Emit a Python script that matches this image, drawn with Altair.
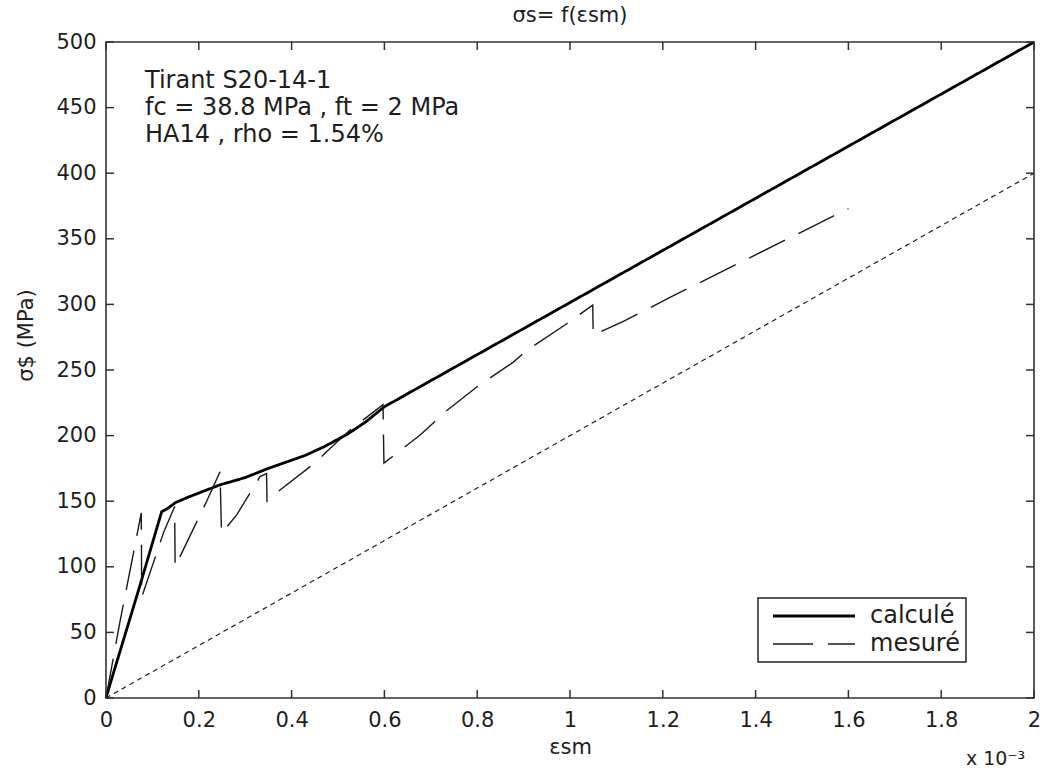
import altair as alt
import pandas as pd

FONT = "DejaVu Sans"
INK = "#1e1e1e"

# ---- data (x in units of 1e-3, y in MPa) ----
calc_x = [0, 0.01, 0.07, 0.12, 0.135, 0.15, 0.18, 0.246, 0.3, 0.346, 0.382, 0.43, 0.47, 0.52, 0.56, 0.6, 2.0]
calc_y = [0, 12, 82, 142, 145, 149, 153.5, 162.5, 168, 174.5, 179, 185, 191.5, 201, 210.5, 222, 500]

mes_x = [0, 0.03, 0.06, 0.076, 0.077, 0.102, 0.125, 0.148, 0.149, 0.217, 0.2457, 0.249,
         0.2817, 0.332, 0.346, 0.347, 0.375, 0.454, 0.4757, 0.526, 0.597, 0.599,
         0.677, 0.734, 0.799, 0.878, 0.907, 0.989, 1.049, 1.05, 1.115, 1.225, 1.6]
mes_y = [0, 58, 112, 141, 77, 103, 127, 146, 100, 150, 172.5, 125.5,
         139.6, 168.7, 171, 150, 158.6, 180.2, 187.8, 204.3, 223.5, 179,
         200.5, 219, 237, 256, 265, 284.3, 299.5, 276.6, 287, 307, 373]

ref_x = [0, 2.0]
ref_y = [0, 400]

series = ["calculé", "mesuré"]

x_ticks = [0, 0.2, 0.4, 0.6, 0.8, 1.0, 1.2, 1.4, 1.6, 1.8, 2.0]
y_ticks = [0, 50, 100, 150, 200, 250, 300, 350, 400, 450, 500]

note_lines = ["Tirant S20-14-1", "fc = 38.8 MPa , ft = 2 MPa", "HA14 , rho = 1.54%"]
note_x = [0.084, 0.084, 0.084]
note_y = [464.6, 444.4, 424.0]

exponent = ["x 10⁻³"]

# ---- tables ----
rows = []
for i, (x, y) in enumerate(zip(calc_x, calc_y)):
    rows.append({"x": x, "y": y, "serie": series[0], "i": i})
for i, (x, y) in enumerate(zip(mes_x, mes_y)):
    rows.append({"x": x, "y": y, "serie": series[1], "i": i})
df = pd.DataFrame(rows)
ref_df = pd.DataFrame({"x": ref_x, "y": ref_y})
xt_df = pd.DataFrame({"x": x_ticks})
yt_df = pd.DataFrame({"y": y_ticks})
note_df = pd.DataFrame({"x": note_x, "y": note_y, "t": note_lines})
exp_df = pd.DataFrame({"t": exponent})

W, H = 928, 656

xs = alt.Scale(domain=[0, 2], nice=False, zero=False)
ys = alt.Scale(domain=[0, 500], nice=False, zero=False)

xaxis = alt.Axis(values=x_ticks, format="~g", ticks=False, domain=False, grid=False,
                 labelFlush=False, labelPadding=11, labelFont=FONT, labelFontSize=21,
                 labelColor=INK, title="εsm", titleFont=FONT, titleFontSize=21,
                 titleFontWeight="normal", titleColor=INK, titlePadding=6)
yaxis = alt.Axis(values=y_ticks, ticks=False, domain=False, grid=False,
                 labelFlush=False, labelPadding=10, labelFont=FONT, labelFontSize=21,
                 labelColor=INK, title="σ$ (MPa)", titleFont=FONT, titleFontSize=21,
                 titleFontWeight="normal", titleColor=INK, titleX=-80, titleY=293,
                 titleBaseline="middle")

X = lambda f: alt.X(f, scale=xs, axis=xaxis)
Y = lambda f: alt.Y(f, scale=ys, axis=yaxis)

def leg():
    return alt.Legend(title=None, labelExpr="datum.label + '\u00a0\u00a0\u00a0\u00a0'")

lines = alt.Chart(df).mark_line().encode(
    x=X("x:Q"),
    y=Y("y:Q"),
    order="i:Q",
    color=alt.Color("serie:N", scale=alt.Scale(domain=series, range=["#000000", "#1a1a1a"]),
                    legend=leg()),
    strokeDash=alt.StrokeDash("serie:N", scale=alt.Scale(domain=series, range=[[1, 0], [40, 15]]),
                              legend=leg()),
    strokeWidth=alt.StrokeWidth("serie:N", scale=alt.Scale(domain=series, range=[2.8, 1.4]),
                                legend=leg()),
)

ref_line = alt.Chart(ref_df).mark_line(color="#222", strokeWidth=1.2, strokeDash=[5, 4]).encode(
    x=X("x:Q"), y=Y("y:Q"))

tick_style = dict(color="#333", strokeWidth=1.5)
t_bottom = alt.Chart(xt_df).mark_rule(**tick_style).encode(x=X("x:Q"), y=alt.value(H), y2=alt.value(H - 8))
t_top = alt.Chart(xt_df).mark_rule(**tick_style).encode(x=X("x:Q"), y=alt.value(0), y2=alt.value(8))
t_left = alt.Chart(yt_df).mark_rule(**tick_style).encode(y=Y("y:Q"), x=alt.value(0), x2=alt.value(8))
t_right = alt.Chart(yt_df).mark_rule(**tick_style).encode(y=Y("y:Q"), x=alt.value(W), x2=alt.value(W - 8))

notes = alt.Chart(note_df).mark_text(align="left", baseline="alphabetic", font=FONT,
                                     fontSize=24, color=INK).encode(
    x=X("x:Q"), y=Y("y:Q"), text="t:N")

exp_text = alt.Chart(exp_df).mark_text(align="left", baseline="middle", font=FONT,
                                       fontSize=19, color=INK).encode(
    x=alt.value(860), y=alt.value(717), text="t:N")

chart = alt.layer(ref_line, lines, t_bottom, t_top, t_left, t_right, notes, exp_text).properties(
    width=W, height=H,
    autosize=alt.AutoSizeParams(type="none"),
    padding={"left": 106, "top": 42, "right": 8, "bottom": 73},
    title=alt.TitleParams("σs= f(εsm)", font=FONT, fontSize=21, fontWeight="normal",
                          anchor="middle", frame="group", offset=5, color=INK),
    background="white",
).configure_view(stroke="#333", strokeWidth=1.6).configure_legend(
    orient="none", legendX=652, legendY=556,
    strokeColor="#222", strokeWidth=1.5, fillColor="white",
    padding=6, symbolType="M-4,0H4", symbolSize=420, symbolOffset=38,
    labelOffset=44, labelFont=FONT, labelFontSize=24, labelColor=INK, rowPadding=4,
)

chart.save("out.html", embed_options={"renderer": "svg", "actions": False})
